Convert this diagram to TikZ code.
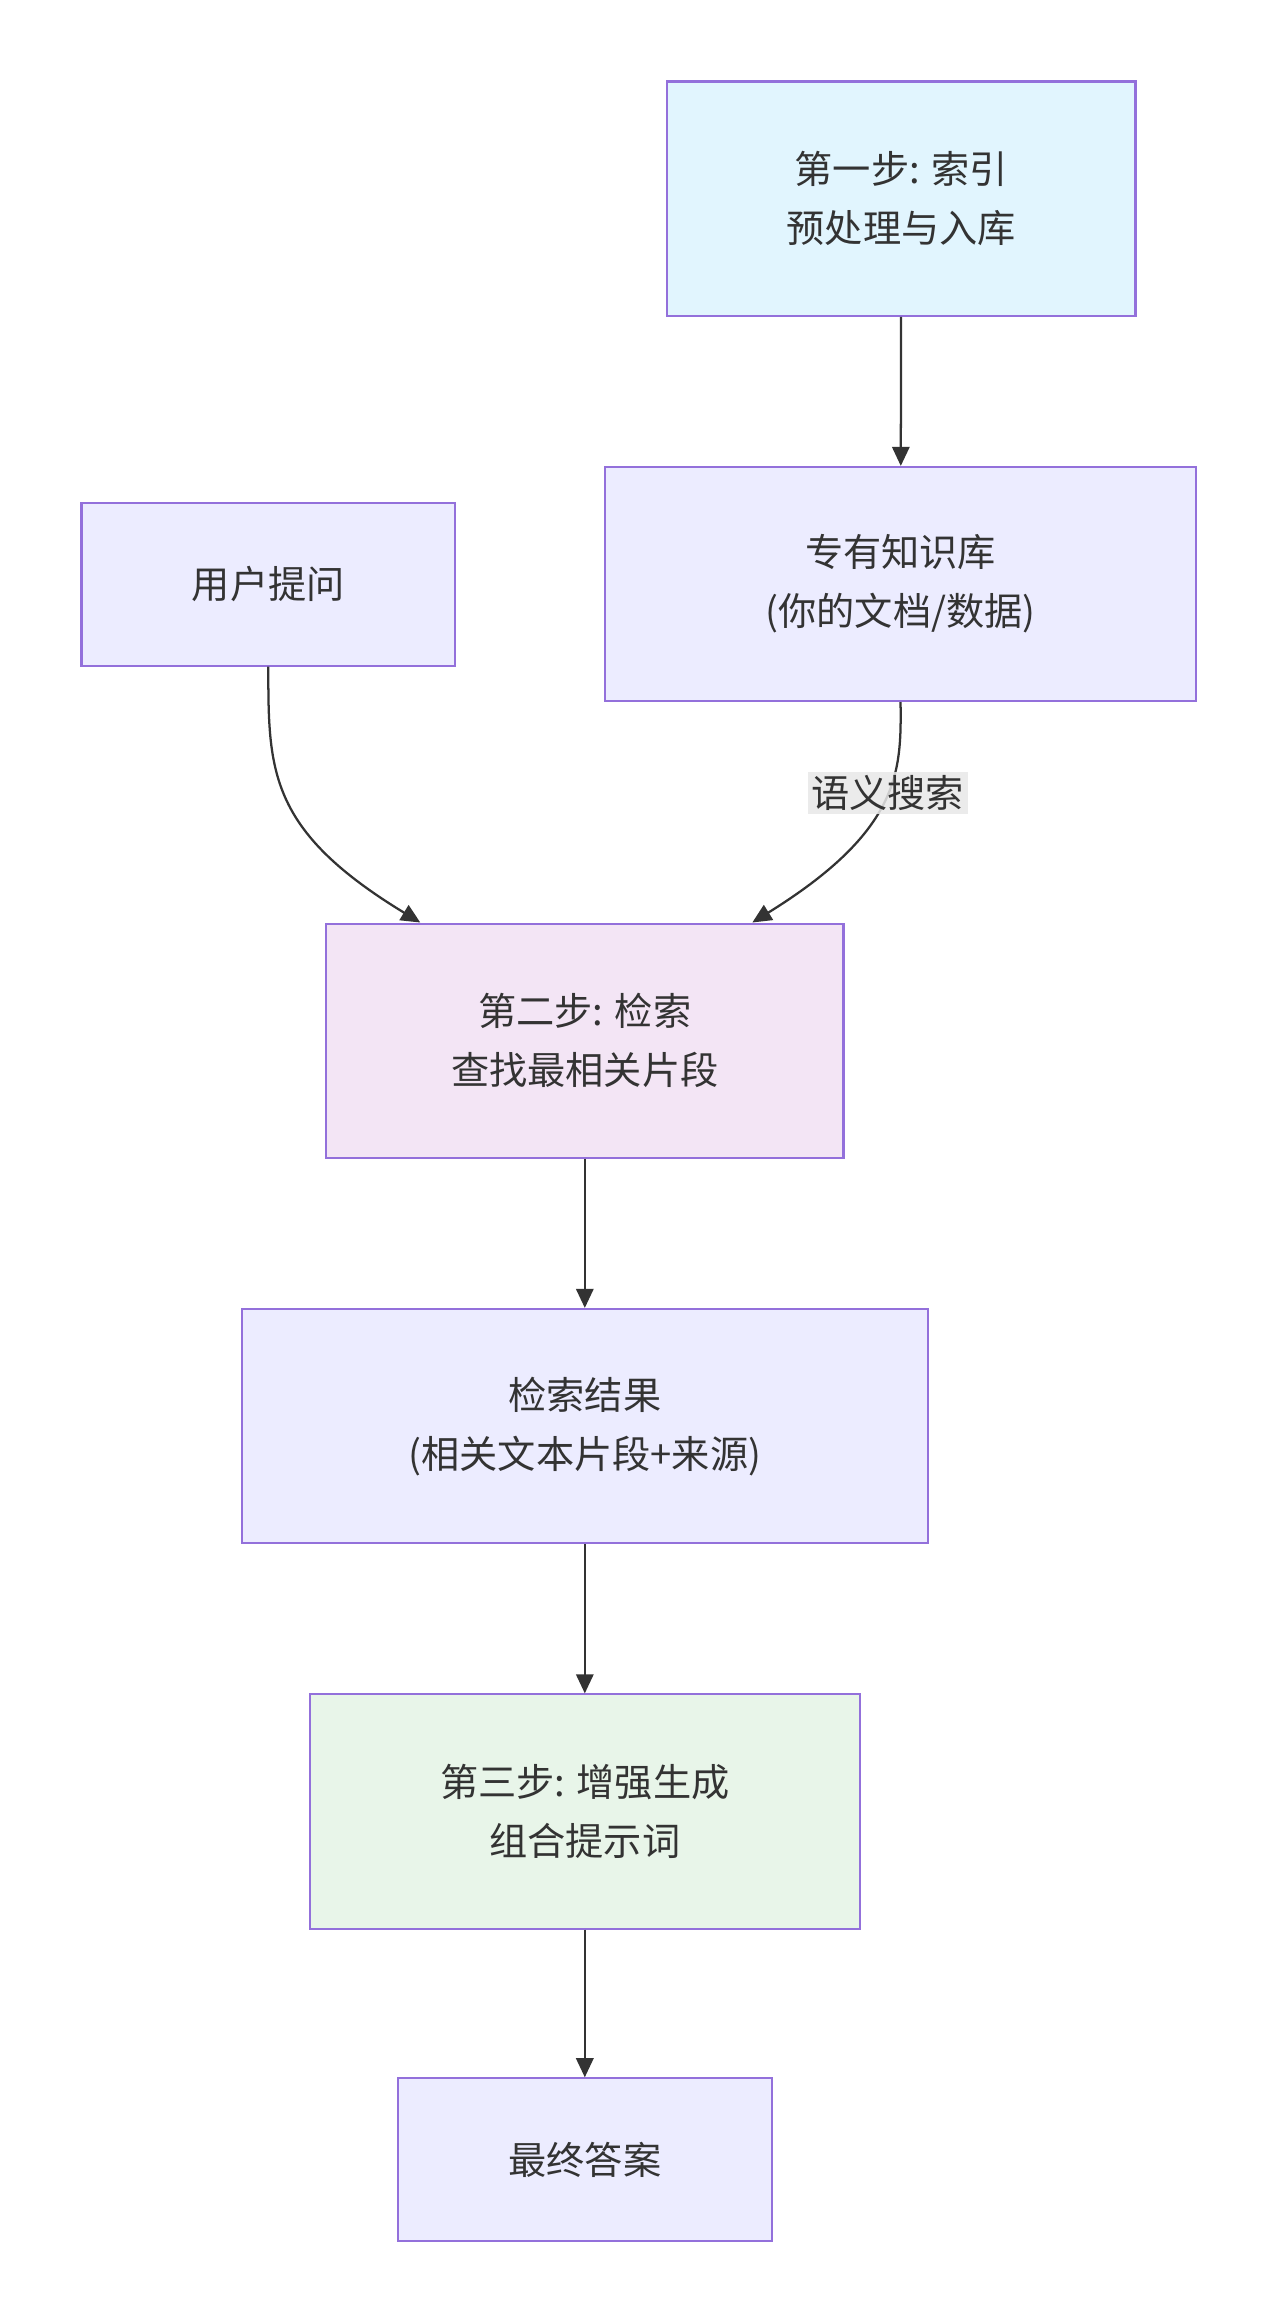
\documentclass[tikz,border=0pt]{standalone}
\usepackage{fontspec}
\setmainfont{Noto Sans CJK SC}
\usetikzlibrary{positioning,arrows.meta}
\definecolor{edgecol}{HTML}{9370DB}
\definecolor{txtcol}{HTML}{333333}
\definecolor{fillA}{HTML}{ECECFF}
\definecolor{fillIdx}{HTML}{E1F5FE}
\definecolor{fillRet}{HTML}{F3E5F5}
\definecolor{fillGen}{HTML}{E8F5E9}
\tikzset{
  box/.style = {draw=edgecol, line width=1.2pt, fill=fillA, text=txtcol,
    align=center, font=\fontsize{22}{34}\selectfont, inner sep=0pt},
  link/.style = {draw=txtcol, line width=1.3pt, -{Triangle[length=11pt,width=10pt]}},
}
\begin{document}
\begin{tikzpicture}[x=0.03cm, y=-0.03cm]

    \useasboundingbox (0,0) rectangle (860,1563);

    % nodes
    \node[box, fill=fillIdx, minimum width=316*0.03cm, minimum height=158*0.03cm] (idx) at (608,134) {第一步: 索引\\预处理与入库};
    \node[box, minimum width=399*0.03cm, minimum height=158*0.03cm] (kb) at (607.5,394) {专有知识库\\(你的文档/数据)};
    \node[box, minimum width=252*0.03cm, minimum height=110*0.03cm] (ask) at (181,394) {用户提问};
    \node[box, fill=fillRet, minimum width=349*0.03cm, minimum height=158*0.03cm] (ret) at (394.5,702) {第二步: 检索\\查找最相关片段};
    \node[box, minimum width=463*0.03cm, minimum height=158*0.03cm] (res) at (394.5,962) {检索结果\\(相关文本片段+来源)};
    \node[box, fill=fillGen, minimum width=371*0.03cm, minimum height=158*0.03cm] (gen) at (394.5,1222) {第三步: 增强生成\\组合提示词};
    \node[box, minimum width=252*0.03cm, minimum height=110*0.03cm] (ans) at (394.5,1457) {最终答案};

    % connectors
    \draw[link] (idx) -- (kb);
    \draw[link] (ask.south) .. controls (181,520) and (181,560) .. ([xshift=-111*0.03cm]ret.north);
    \draw[link] (kb.south) .. controls (608,520) and (608,560) .. node[pos=0.45, fill=gray!18, fill opacity=0.85, text opacity=1, text=txtcol, font=\fontsize{22}{26}\selectfont, inner sep=2pt] {语义搜索} ([xshift=113*0.03cm]ret.north);
    \draw[link] (ret) -- (res);
    \draw[link] (res) -- (gen);
    \draw[link] (gen) -- (ans);

\end{tikzpicture}
\end{document}
